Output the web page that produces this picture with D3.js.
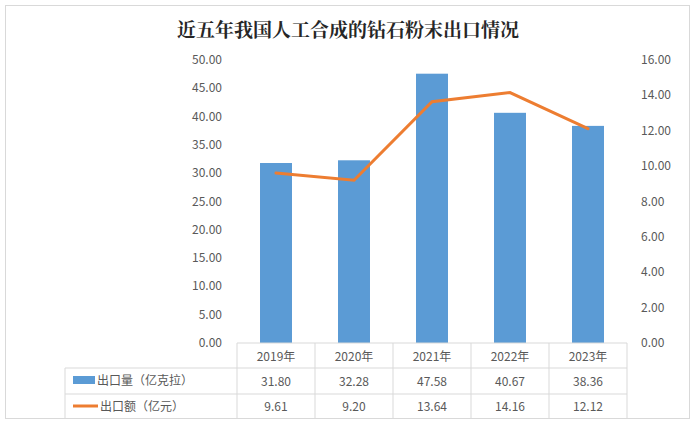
<!DOCTYPE html>
<html><head><meta charset="utf-8">
<script src="https://cdn.jsdelivr.net/npm/d3@7"></script>
<style>body{margin:0;background:#fff}</style>
</head><body>
<svg id="chart" width="695" height="424"></svg>
<script>
// data
const years = ["2019年", "2020年", "2021年", "2022年", "2023年"];
const volume = [31.80, 32.28, 47.58, 40.67, 38.36];   // 出口量（亿克拉）
const amount = [9.61, 9.20, 13.64, 14.16, 12.12];     // 出口额（亿元）
const leftTicks = [0, 5, 10, 15, 20, 25, 30, 35, 40, 45, 50];
const rightTicks = [0, 2, 4, 6, 8, 10, 12, 14, 16];

const svg = d3.select("#chart");
const font = "'Noto Sans CJK SC', 'Liberation Serif', serif";
const grey = "#595959", line = "#d9d9d9";

svg.append("rect").attr("x", 5.5).attr("y", 5.5).attr("width", 684).attr("height", 413)
  .attr("fill", "#fff").attr("stroke", line);

svg.append("text").attr("x", 348).attr("y", 37).attr("text-anchor", "middle")
  .attr("font-family", "'Noto Serif CJK SC', 'Noto Sans CJK SC', serif").attr("font-weight", "bold")
  .attr("font-size", 19).attr("fill", "#262626").text("近五年我国人工合成的钻石粉末出口情况");

const x0 = 237, x1 = 627, yTop = 60, yBot = 343;
const x = d3.scaleBand().domain(years).range([x0, x1]).paddingInner(0.59).paddingOuter(0.295);
const xCell = d3.scaleBand().domain(years).range([x0, x1]);
const yL = d3.scaleLinear().domain([0, 50]).range([yBot, yTop]);
const yR = d3.scaleLinear().domain([0, 16]).range([yBot, yTop]);

// axes labels
svg.append("g").selectAll("text").data(leftTicks).join("text")
  .attr("x", 222).attr("y", d => yL(d) + 4).attr("text-anchor", "end")
  .attr("font-family", font).attr("font-size", 12).attr("fill", grey).text(d => d.toFixed(2));
svg.append("g").selectAll("text").data(rightTicks).join("text")
  .attr("x", 641).attr("y", d => yR(d) + 4)
  .attr("font-family", font).attr("font-size", 12).attr("fill", grey).text(d => d.toFixed(2));

// bars
svg.append("g").selectAll("rect").data(volume).join("rect")
  .attr("x", (d, i) => x(years[i])).attr("width", x.bandwidth())
  .attr("y", d => yL(d)).attr("height", d => yBot - yL(d)).attr("fill", "#5b9bd5");

// line
svg.append("path").datum(amount)
  .attr("d", d3.line().x((d, i) => xCell(years[i]) + xCell.bandwidth() / 2).y(d => yR(d)))
  .attr("fill", "none").attr("stroke", "#ed7d31").attr("stroke-width", 3).attr("stroke-linecap", "round");

// data table
const rows = [yBot, 368, 394, 419];
const tl = 65;
const g = svg.append("g").attr("stroke", line).attr("fill", "none");
g.append("line").attr("x1", x0).attr("x2", x1).attr("y1", rows[0]).attr("y2", rows[0]);
[1, 2].forEach(i => g.append("line").attr("x1", tl).attr("x2", x1).attr("y1", rows[i]).attr("y2", rows[i]));
g.append("line").attr("x1", tl).attr("x2", tl).attr("y1", rows[1]).attr("y2", rows[3]);
years.forEach(c => g.append("line").attr("x1", xCell(c)).attr("x2", xCell(c)).attr("y1", rows[0]).attr("y2", rows[3]));
g.append("line").attr("x1", x1).attr("x2", x1).attr("y1", rows[0]).attr("y2", rows[3]);

const cx = c => xCell(c) + xCell.bandwidth() / 2;
svg.append("g").selectAll("text").data(years).join("text")
  .attr("x", cx).attr("y", 361).attr("text-anchor", "middle")
  .attr("font-family", font).attr("font-size", 12).attr("fill", grey).text(d => d);
[[volume, 386], [amount, 411]].forEach(([arr, yy]) => {
  svg.append("g").selectAll("text").data(arr).join("text")
    .attr("x", (d, i) => cx(years[i])).attr("y", yy).attr("text-anchor", "middle")
    .attr("font-family", font).attr("font-size", 12).attr("fill", grey).text(d => d.toFixed(2));
});

svg.append("rect").attr("x", 73).attr("y", 376).attr("width", 22).attr("height", 8).attr("fill", "#5b9bd5");
svg.append("line").attr("x1", 73).attr("x2", 98).attr("y1", 406).attr("y2", 406)
  .attr("stroke", "#ed7d31").attr("stroke-width", 3);
svg.append("text").attr("x", 97).attr("y", 385).attr("font-family", font).attr("font-size", 12)
  .attr("fill", grey).text("出口量（亿克拉）");
svg.append("text").attr("x", 100).attr("y", 411).attr("font-family", font).attr("font-size", 12)
  .attr("fill", grey).text("出口额（亿元）");
</script>
</body></html>
